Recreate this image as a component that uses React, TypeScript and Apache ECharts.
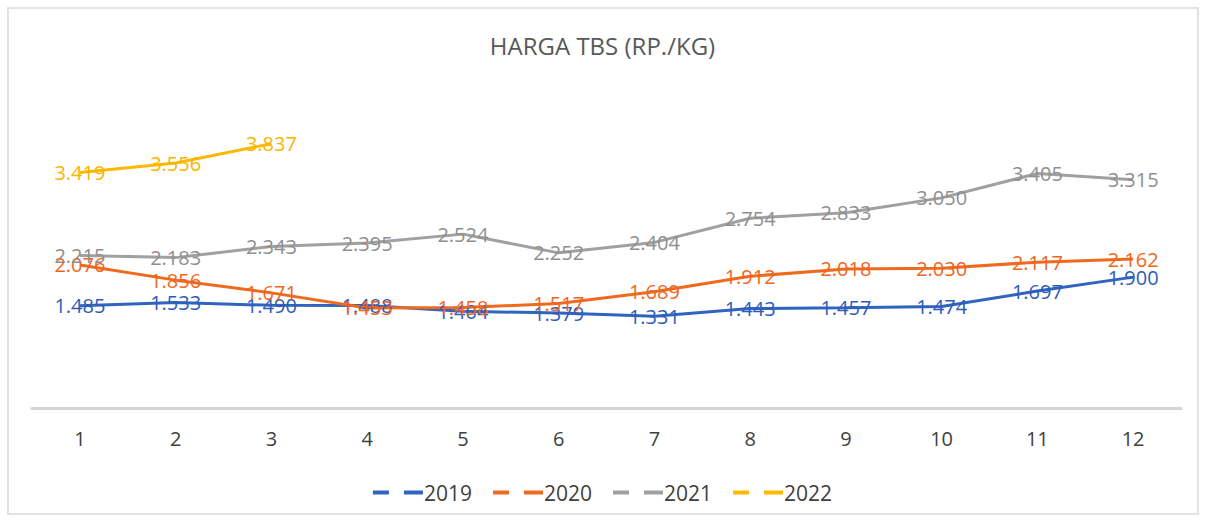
import React, { useEffect, useRef } from "react";
import * as echarts from "echarts";

const months = ["1", "2", "3", "4", "5", "6", "7", "8", "9", "10", "11", "12"];
const years = ["2019", "2020", "2021", "2022"];
const v2019 = [1485, 1533, 1490, 1488, 1404, 1379, 1331, 1443, 1457, 1474, 1697, 1900];
const v2020 = [2076, 1856, 1671, 1453, 1458, 1517, 1689, 1912, 2018, 2030, 2117, 2162];
const v2021 = [2215, 2183, 2343, 2395, 2524, 2252, 2404, 2754, 2833, 3050, 3405, 3315];
const v2022 = [3419, 3556, 3837];
const colors = ["#2F64BF", "#F06A1E", "#A0A0A0", "#FDB800"];
const labelColors = ["#2F5CB8", "#F0661E", "#8F8F8F", "#F9B400"];

const fmt = (v: number) => (v / 1000).toFixed(3);

export default function App() {
  const ref = useRef<HTMLDivElement>(null);
  useEffect(() => {
    if (!ref.current) return;
    const chart = echarts.init(ref.current, null, { renderer: "svg" });
    const data = [v2019, v2020, v2021, v2022];
    const font = "'Open Sans', sans-serif";
    chart.setOption({
      animation: false,
      backgroundColor: "#ffffff",
      title: {
        text: "HARGA TBS (RP./KG)",
        left: "center",
        top: 28,
        textStyle: { fontFamily: font, fontSize: 24, fontWeight: "normal", color: "#595959" },
      },
      graphic: [
        {
          type: "rect",
          shape: { x: 8, y: 8, width: 1190, height: 506 },
          style: { fill: "none", stroke: "#E2E2E2", lineWidth: 2 },
          silent: true,
        },
      ],
      legend: {
        top: 477,
        left: "center",
        itemWidth: 50,
        itemHeight: 4,
        itemGap: 21,
        icon: "path://M0,0h16v4h-16z M31,0h19v4h-19z",
        textStyle: { fontFamily: font, fontSize: 21, color: "#404040", padding: [0, 0, 0, -4] },
        data: years,
      },
      grid: { left: 32, right: 24, top: 98, bottom: 113 },
      xAxis: {
        type: "category",
        data: months,
        boundaryGap: true,
        axisLine: { lineStyle: { color: "#D4D4D4", width: 3 } },
        axisTick: { show: false },
        axisLabel: { fontFamily: font, fontSize: 20, color: "#404040", margin: 20 },
      },
      yAxis: {
        type: "value",
        min: 0,
        max: 4500,
        show: false,
        splitLine: { show: false },
      },
      series: years.map((y, i) => ({
        name: y,
        type: "line",
        data: data[i],
        symbol: "circle",
        symbolSize: 0.01,
        showSymbol: true,
        lineStyle: { color: colors[i], width: 3 },
        itemStyle: { color: colors[i] },
        label: {
          show: true,
          position: "inside",
          formatter: (p: any) => fmt(p.value),
          fontFamily: font,
          fontSize: 20,
          color: labelColors[i],
        },
      })),
    });
    return () => chart.dispose();
  }, []);
  return (
    <div
      ref={ref}
      style={{ position: "absolute", left: 0, top: 0, width: 1205, height: 521 }}
    />
  );
}
